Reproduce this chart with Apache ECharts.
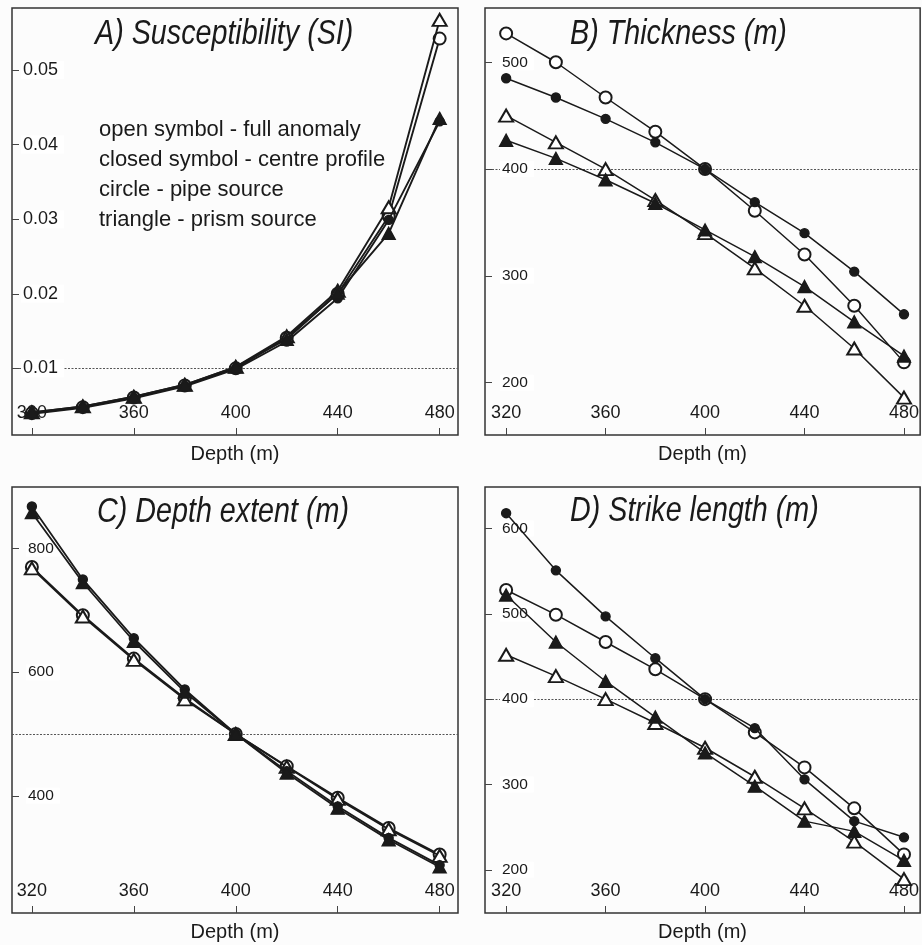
<!DOCTYPE html>
<html>
<head>
<meta charset="utf-8">
<script src="https://cdn.jsdelivr.net/npm/echarts@6/dist/echarts.min.js"></script>
<style>
  html, body { margin: 0; padding: 0; background: #fcfcfc; }
  #chart { width: 922px; height: 945px; }
</style>
</head>
<body>
<div id="chart"></div>
<script>
// Depth of source (m) shared by all four panels
const depths = [320, 340, 360, 380, 400, 420, 440, 460, 480];
const depthTicks = [320, 360, 400, 440, 480];

// A) Susceptibility (SI)
const suscOpenCircle     = [0.0040, 0.0048, 0.0061, 0.0077, 0.0100, 0.0141, 0.0200, 0.0304, 0.0542];
const suscOpenTriangle   = [0.0041, 0.0049, 0.0062, 0.0078, 0.0102, 0.0143, 0.0204, 0.0316, 0.0567];
const suscClosedCircle   = [0.0039, 0.0047, 0.0060, 0.0076, 0.0099, 0.0136, 0.0194, 0.0299, 0.0431];
const suscClosedTriangle = [0.0041, 0.0049, 0.0062, 0.0078, 0.0102, 0.0139, 0.0201, 0.0281, 0.0435];
const suscTicks = [0.01, 0.02, 0.03, 0.04, 0.05];
const suscRef = 0.01;

// B) Thickness (m)
const thickOpenCircle     = [527, 500, 467, 435, 400, 361, 320, 272, 219];
const thickClosedCircle   = [485, 467, 447, 425, 400, 369, 340, 304, 264];
const thickOpenTriangle   = [450, 425, 400, 371, 340, 307, 272, 232, 186];
const thickClosedTriangle = [427, 410, 390, 368, 343, 318, 290, 257, 225];
const thickTicks = [200, 300, 400, 500];
const thickRef = 400;

// C) Depth extent (m)
const extentOpenCircle     = [770, 692, 622, 558, 500, 448, 397, 348, 305];
const extentOpenTriangle   = [768, 690, 620, 556, 500, 447, 395, 346, 303];
const extentClosedCircle   = [868, 750, 655, 572, 500, 440, 383, 332, 288];
const extentClosedTriangle = [858, 745, 650, 568, 500, 437, 380, 329, 285];
const extentTicks = [400, 600, 800];
const extentRef = 500;

// D) Strike length (m)
const strikeOpenCircle     = [528, 499, 467, 435, 400, 361, 320, 272, 218];
const strikeClosedCircle   = [618, 551, 497, 448, 400, 366, 306, 257, 238];
const strikeOpenTriangle   = [452, 427, 400, 372, 343, 309, 272, 233, 189];
const strikeClosedTriangle = [522, 467, 421, 379, 337, 298, 257, 245, 211];
const strikeTicks = [200, 300, 400, 500, 600];
const strikeRef = 400;

const panelTitles = ['A) Susceptibility (SI)', 'B) Thickness (m)', 'C) Depth extent (m)', 'D) Strike length (m)'];
const xName = 'Depth (m)';
const noteLines = [
  'open symbol - full anomaly',
  'closed symbol - centre profile',
  'circle - pipe source',
  'triangle - prism source'
];

const INK = '#1a1a1a';
const FONT = "'Liberation Sans', Arial, Helvetica, sans-serif";

const panels = [
  { grid: { left: 12,  top: 8,   width: 446, height: 427 }, xMin: 312.2, xMax: 487.2,
    yMin: 0.00107, yMax: 0.0583, ticks: suscTicks, ref: suscRef, lw: 1.9,
    yFont: 18, yMargin: 9, title: { x: 95, y: 34 },
    series: [suscOpenCircle, suscOpenTriangle, suscClosedCircle, suscClosedTriangle] },
  { grid: { left: 485, top: 8,   width: 445, height: 427 }, xMin: 311.5, xMax: 486.5,
    yMin: 151, yMax: 550.8, ticks: thickTicks, ref: thickRef, lw: 1.5,
    yFont: 15.5, yMargin: 15, title: { x: 570, y: 34 },
    series: [thickOpenCircle, thickOpenTriangle, thickClosedCircle, thickClosedTriangle] },
  { grid: { left: 12,  top: 487, width: 446, height: 426 }, xMin: 312.2, xMax: 487.2,
    yMin: 210.5, yMax: 899.5, ticks: extentTicks, ref: extentRef, lw: 1.8,
    yFont: 15.5, yMargin: 14, title: { x: 97, y: 512 },
    series: [extentOpenCircle, extentOpenTriangle, extentClosedCircle, extentClosedTriangle] },
  { grid: { left: 485, top: 487, width: 445, height: 426 }, xMin: 311.5, xMax: 486.5,
    yMin: 149.3, yMax: 648.7, ticks: strikeTicks, ref: strikeRef, lw: 1.5,
    yFont: 15.5, yMargin: 15, title: { x: 570, y: 511 },
    series: [strikeOpenCircle, strikeOpenTriangle, strikeClosedCircle, strikeClosedTriangle] }
];

// symbol per series: open circle, open triangle, closed circle, closed triangle
const markers = [
  { symbol: 'emptyCircle',   size: 12 },
  { symbol: 'emptyTriangle', size: [14, 12] },
  { symbol: 'circle',        size: 9 },
  { symbol: 'triangle',      size: [13, 12] }
];

const grids = [], xAxes = [], yAxes = [], series = [], graphics = [];

panels.forEach((p, i) => {
  grids.push(Object.assign({ show: true, borderColor: '#333', borderWidth: 1.5,
    backgroundColor: 'transparent', containLabel: false }, p.grid));

  xAxes.push({
    type: 'value', gridIndex: i, min: p.xMin, max: p.xMax, z: 1,
    name: xName, nameLocation: 'middle', nameGap: 9,
    nameTextStyle: { fontFamily: FONT, fontSize: 20, color: INK, verticalAlign: 'top' },
    axisLine: { show: false },
    splitLine: { show: false },
    axisTick: { show: true, inside: true, length: 7, customValues: depthTicks,
      lineStyle: { color: '#444', width: 1 } },
    axisLabel: { inside: true, margin: 13, customValues: depthTicks,
      fontFamily: FONT, fontSize: 18, color: INK }
  });

  yAxes.push({
    type: 'value', gridIndex: i, min: p.yMin, max: p.yMax, z: 3,
    axisLine: { show: false },
    splitLine: { show: false },
    axisTick: { show: true, inside: true, length: 7, customValues: p.ticks,
      lineStyle: { color: '#444', width: 1 } },
    axisLabel: { inside: true, margin: p.yMargin, customValues: p.ticks,
      fontFamily: FONT, fontSize: p.yFont, color: INK,
      backgroundColor: '#fff', padding: [0, 6, 0, 2] }
  });

  // dashed reference level behind the axis labels
  series.push({
    type: 'line', xAxisIndex: i, yAxisIndex: i, data: [], z: 1, silent: true,
    markLine: {
      z: 1, silent: true, symbol: 'none', label: { show: false },
      lineStyle: { color: '#555', type: [2, 1.5], width: 1 },
      data: [{ yAxis: p.ref }]
    }
  });

  p.series.forEach((vals, k) => {
    const m = markers[k];
    series.push({
      type: 'line', xAxisIndex: i, yAxisIndex: i, z: 4 + k,
      data: depths.map((d, j) => [d, vals[j]]),
      symbol: m.symbol, symbolSize: m.size, showSymbol: true,
      lineStyle: { color: INK, width: p.lw },
      itemStyle: { color: INK, borderColor: INK, borderWidth: 1.4 },
      animation: false
    });
  });

  // italic panel heading, set in a condensed width
  graphics.push({
    type: 'text', x: p.title.x, y: p.title.y, scaleX: 0.82, z: 10,
    style: { text: panelTitles[i], fontFamily: FONT, fontStyle: 'italic',
      fontSize: 35, fill: INK, align: 'left', verticalAlign: 'middle' }
  });
});

graphics.push({
  type: 'text', left: 99, top: 115, z: 10,
  style: { text: noteLines.join('\n'), fontFamily: FONT, fontSize: 22,
    lineHeight: 30, fill: INK }
});

const chart = echarts.init(document.getElementById('chart'), null, { renderer: 'canvas' });
chart.setOption({
  backgroundColor: '#fcfcfc',
  animation: false,
  grid: grids,
  xAxis: xAxes,
  yAxis: yAxes,
  series: series,
  graphic: graphics
});
</script>
</body>
</html>
